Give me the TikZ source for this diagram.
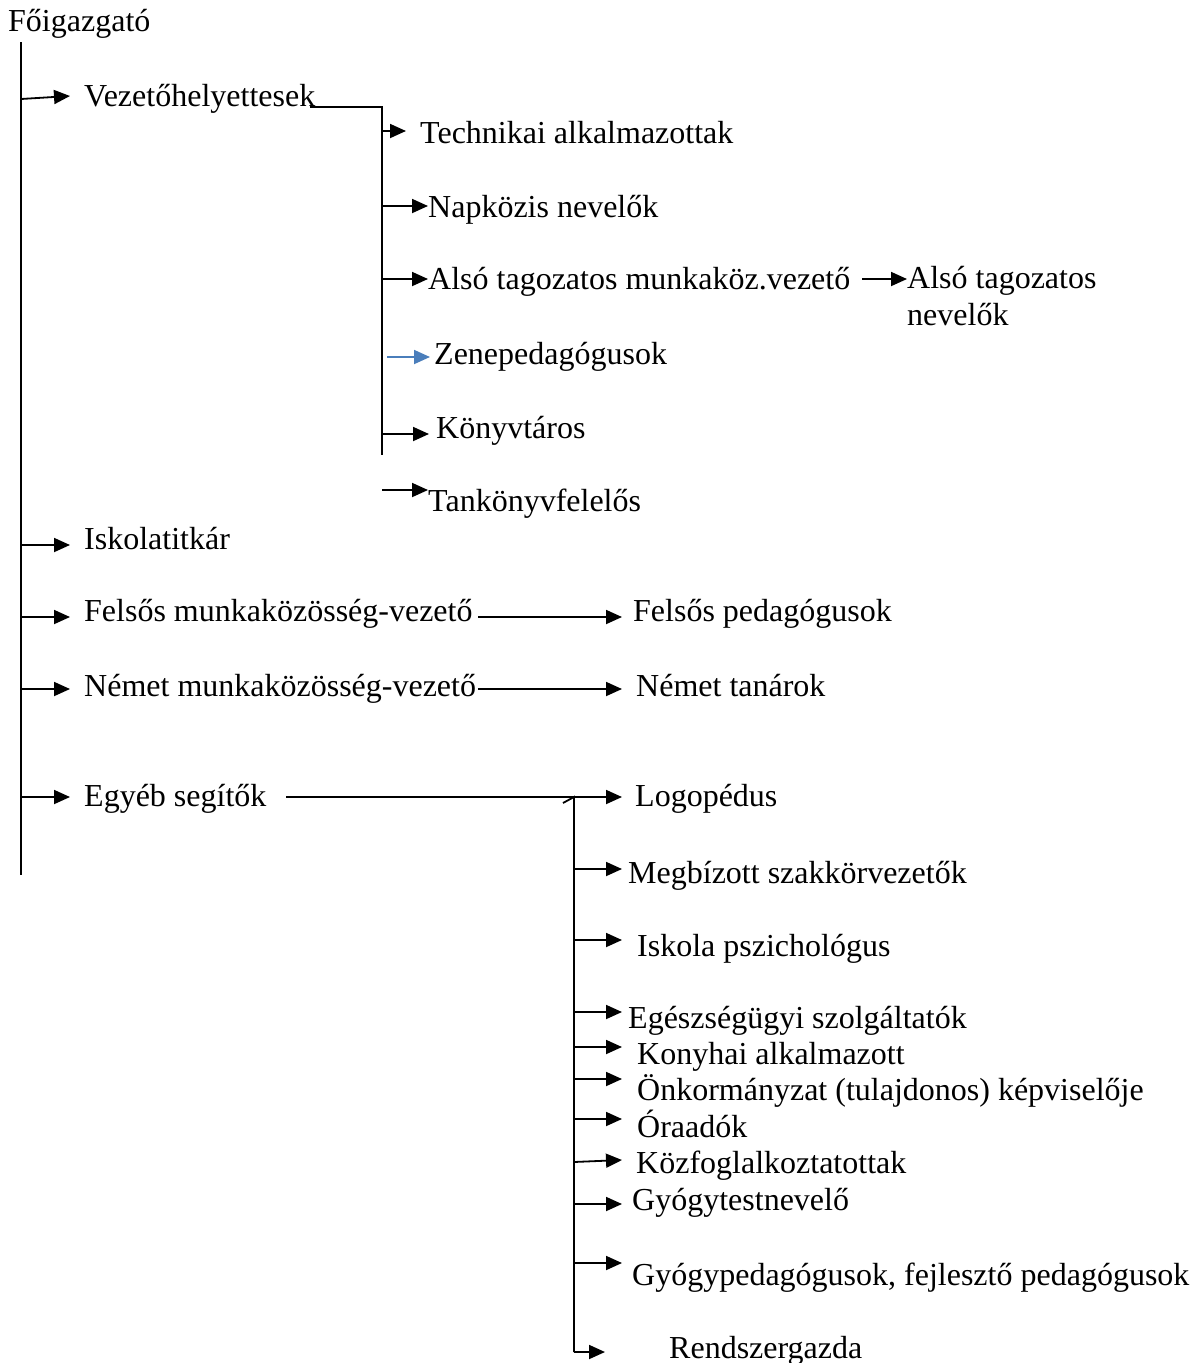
\documentclass[tikz,border=0pt]{standalone}
\usepackage{fontspec}
\setmainfont{Liberation Serif}
\usetikzlibrary{arrows.meta}
\definecolor{zblue}{HTML}{4A7EBB}
\begin{document}
\begin{tikzpicture}[x=1pt,y=-1pt,
  lbl/.style={anchor=base west,inner sep=0pt,font=\fontsize{32}{37}\selectfont},
  ln/.style={line width=1.8pt},
  arr/.style={line width=1.8pt,-{Triangle[length=16pt,width=14pt]}},
  barr/.style={line width=1.8pt,draw=zblue,-{Triangle[length=16pt,width=14pt]},zblue}]
\useasboundingbox (0,0) rectangle (1194,1363);
% text nodes
\node[lbl] (fo) at (8,31) {Főigazgató};
\node[lbl] (vez) at (84,106) {Vezetőhelyettesek};
\node[lbl] (tech) at (420,143) {Technikai alkalmazottak};
\node[lbl] (napk) at (428,217) {Napközis nevelők};
\node[lbl] (also) at (428,289) {Alsó tagozatos munkaköz.vezető};
\node[lbl,align=left,anchor=north west] (alsonev) at (907,266) {Alsó tagozatos\\nevelők};
\node[lbl] (zene) at (434,364) {Zenepedagógusok};
\node[lbl] (konyv) at (436,438) {Könyvtáros};
\node[lbl] (tank) at (428,511) {Tankönyvfelelős};
\node[lbl] (titk) at (84,549) {Iskolatitkár};
\node[lbl] (fels) at (84,621) {Felsős munkaközösség-vezető};
\node[lbl] (felsped) at (633,621) {Felsős pedagógusok};
\node[lbl] (nem) at (84,696) {Német munkaközösség-vezető};
\node[lbl] (nemtan) at (636,696) {Német tanárok};
\node[lbl] (egy) at (84,806) {Egyéb segítők};
\node[lbl] (logo) at (635,806) {Logopédus};
\node[lbl] (megb) at (628,883) {Megbízott szakkörvezetők};
\node[lbl] (pszi) at (637,956) {Iskola pszichológus};
\node[lbl] (egesz) at (628,1028) {Egészségügyi szolgáltatók};
\node[lbl] (kony) at (637,1064) {Konyhai alkalmazott};
\node[lbl] (onk) at (637,1100) {Önkormányzat (tulajdonos) képviselője};
\node[lbl] (ora) at (637,1137) {Óraadók};
\node[lbl] (kozf) at (636,1173) {Közfoglalkoztatottak};
\node[lbl] (gyte) at (632,1210) {Gyógytestnevelő};
\node[lbl] (gyped) at (632,1285) {Gyógypedagógusok, fejlesztő pedagógusok};
\node[lbl] (rend) at (669,1358) {Rendszergazda};
% coordinates
\coordinate (s0) at (21,42);
\coordinate (s9) at (21,875);
\coordinate (sVez) at (21,99);   \coordinate (tVez) at (70,96);
\coordinate (sTitk) at (21,545); \coordinate (tTitk) at (70,545);
\coordinate (sFels) at (21,617); \coordinate (tFels) at (70,617);
\coordinate (sNem) at (21,689);  \coordinate (tNem) at (70,689);
\coordinate (sEgy) at (21,797);  \coordinate (tEgy) at (70,797);
\coordinate (v0) at (310,107); \coordinate (v1) at (382,107); \coordinate (v2) at (382,455);
\coordinate (sTech) at (382,131); \coordinate (tTech) at (406,131);
\coordinate (sNapk) at (382,206); \coordinate (tNapk) at (428,206);
\coordinate (sAlso) at (382,279); \coordinate (tAlso) at (428,279);
\coordinate (sAlso2) at (862,279); \coordinate (tAlso2) at (907,279);
\coordinate (sZene) at (387,357); \coordinate (tZene) at (430,357);
\coordinate (sKonyv) at (382,434); \coordinate (tKonyv) at (429,434);
\coordinate (sTank) at (382,490); \coordinate (tTank) at (428,490);
\coordinate (sFp) at (478,617); \coordinate (tFp) at (622,617);
\coordinate (sNt) at (478,689); \coordinate (tNt) at (622,689);
\coordinate (sLogo) at (286,797); \coordinate (tLogo) at (622,797);
\coordinate (k0) at (574,797); \coordinate (k1) at (574,1352);
\coordinate (tick0) at (563,803);
\coordinate (tMegb) at (622,869);
\coordinate (tPszi) at (622,940);
\coordinate (tEgesz) at (622,1012);
\coordinate (tKony) at (622,1047);
\coordinate (tOnk) at (622,1079);
\coordinate (tOra) at (622,1119);
\coordinate (tKozf) at (622,1160);
\coordinate (sKozf) at (574,1162);
\coordinate (tGyte) at (622,1204);
\coordinate (tGyped) at (622,1263);
\coordinate (tRend) at (605,1352);
% connectors
\draw[ln] (s0) -- (s9);
\draw[arr] (sVez) -- (tVez);
\draw[arr] (sTitk) -- (tTitk);
\draw[arr] (sFels) -- (tFels);
\draw[arr] (sNem) -- (tNem);
\draw[arr] (sEgy) -- (tEgy);
\draw[ln] (v0) -- (v1) -- (v2);
\draw[arr] (sTech) -- (tTech);
\draw[arr] (sNapk) -- (tNapk);
\draw[arr] (sAlso) -- (tAlso);
\draw[arr] (sAlso2) -- (tAlso2);
\draw[barr] (sZene) -- (tZene);
\draw[arr] (sKonyv) -- (tKonyv);
\draw[arr] (sTank) -- (tTank);
\draw[arr] (sFp) -- (tFp);
\draw[arr] (sNt) -- (tNt);
\draw[arr] (sLogo) -- (tLogo);
\draw[ln] (tick0) -- (k0) -- (k1);
\draw[arr] (k1) -- (tRend);
\draw[arr] (k0 |- tMegb) -- (tMegb);
\draw[arr] (k0 |- tPszi) -- (tPszi);
\draw[arr] (k0 |- tEgesz) -- (tEgesz);
\draw[arr] (k0 |- tKony) -- (tKony);
\draw[arr] (k0 |- tOnk) -- (tOnk);
\draw[arr] (k0 |- tOra) -- (tOra);
\draw[arr] (sKozf) -- (tKozf);
\draw[arr] (k0 |- tGyte) -- (tGyte);
\draw[arr] (k0 |- tGyped) -- (tGyped);
\end{tikzpicture}
\end{document}
